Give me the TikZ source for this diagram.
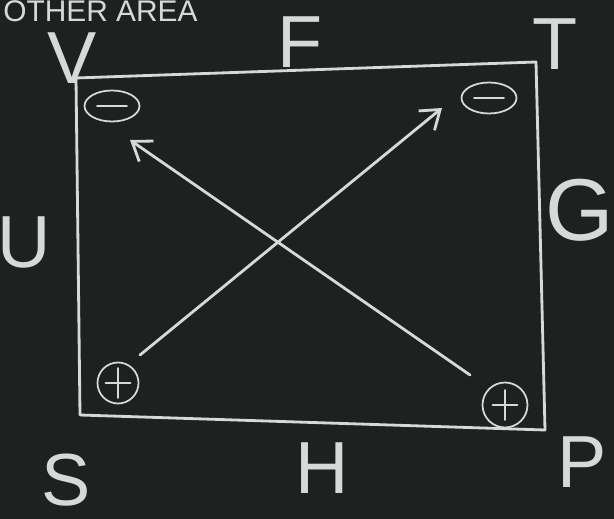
\documentclass[tikz,border=0pt]{standalone}
\usepackage{fontspec}
\setmainfont{Liberation Sans}
\usetikzlibrary{shapes.geometric, arrows.meta}
\definecolor{board}{HTML}{1F2120}
\definecolor{chalk}{HTML}{D6DAD6}
\begin{document}
\begin{tikzpicture}[x=0.02cm, y=-0.02cm, >={Straight Barb[length=3.5mm, width=5mm]}, line width=1.6pt,
                chalk/.style={draw=chalk, line cap=round, line join=round},
                letter/.style={text=chalk, font=\fontsize{42}{42}\selectfont},
                minussign/.style={ellipse, draw=chalk, line width=1pt, minimum width=1.1cm, minimum height=0.62cm, inner sep=0pt},
                plussign/.style={circle, draw=chalk, line width=1pt, minimum size=0.82cm, inner sep=0pt}
            ]

            % board
            \fill[board] (0,0) rectangle (614,519);
            \useasboundingbox (0,0) rectangle (614,519);

            % heading at the top
            \node[text=chalk, font=\fontsize{17}{17}\selectfont, anchor=base west, inner sep=0pt] (title) at (2,22) {OTHER AREA};

            % square
            \coordinate (tl) at (76,78);
            \coordinate (tr) at (536,62);
            \coordinate (br) at (545,430);
            \coordinate (bl) at (80,415);
            \draw[chalk] (tl) -- (tr) -- (br) -- (bl) -- cycle;

            % letters round the square
            \node[letter] (V) at (72,58) {V};
            \node[letter] (F) at (300,42) {F};
            \node[letter] (T) at (555,44) {T};
            \node[letter] (U) at (24,242) {U};
            \node[letter, font=\fontsize{50}{50}\selectfont] (G) at (580,210) {G};
            \node[letter] (S) at (66,480) {S};
            \node[letter] (H) at (322,468) {H};
            \node[letter] (P) at (582,462) {P};

            % signs in the corners
            \node[minussign] (mV) at (112,106) {};
            \draw[chalk, line width=1pt] ([xshift=-0.3cm]mV.center) -- ([xshift=0.3cm]mV.center);
            \node[minussign] (mT) at (489,98) {};
            \draw[chalk, line width=1pt] ([xshift=-0.3cm]mT.center) -- ([xshift=0.3cm]mT.center);
            \node[plussign] (pS) at (118,383) {};
            \draw[chalk, line width=1pt] ([xshift=-0.25cm]pS.center) -- ([xshift=0.25cm]pS.center);
            \draw[chalk, line width=1pt] ([yshift=-0.3cm]pS.center) -- ([yshift=0.3cm]pS.center);
            \node[plussign, minimum size=0.9cm] (pP) at (505,405) {};
            \draw[chalk, line width=1pt] ([xshift=-0.25cm]pP.center) -- ([xshift=0.25cm]pP.center);
            \draw[chalk, line width=1pt] ([yshift=-0.3cm]pP.center) -- ([yshift=0.3cm]pP.center);

            % diagonals
            \coordinate (a1) at (140,355);
            \coordinate (a2) at (442,108);
            \coordinate (b1) at (470,375);
            \coordinate (b2) at (130,140);
            \draw[chalk, ->] (a1) -- (a2);
            \draw[chalk, ->] (b1) -- (b2);

        \end{tikzpicture}
\end{document}
